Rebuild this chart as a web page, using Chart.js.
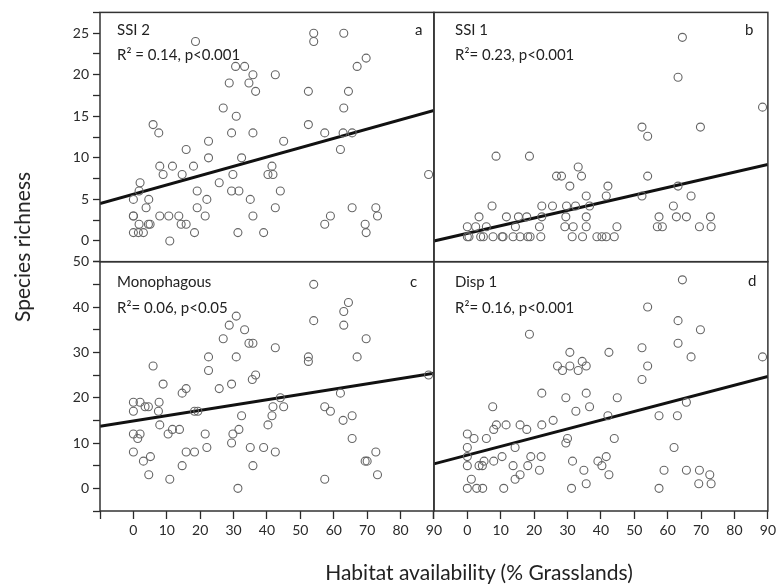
<!DOCTYPE html>
<html>
<head>
<meta charset="utf-8">
<script src="https://cdn.jsdelivr.net/npm/chart.js@4.4.1/dist/chart.umd.min.js"></script>
<style>
  html, body { margin: 0; padding: 0; background: #fff; }
  #wrap { position: relative; width: 779px; height: 587px; font-family: Lato, "Open Sans", sans-serif; color: #222; }
  canvas { position: absolute; left: 0; top: 0; }
  .t { position: absolute; white-space: nowrap; font-size: 15px; line-height: 18px; height: 18px; }
  .title { position: absolute; white-space: nowrap; font-size: 21px; line-height: 24px; }
</style>
</head>
<body>
<div id="wrap">
  <canvas id="c" width="779" height="587"></canvas>
  <div class="t" style="left:117px; top:20px;">SSI 2</div>
  <div class="t" style="left:117px; top:45px;">R² = 0.14, p&lt;0.001</div>
  <div class="t" style="left:415px; top:20px;">a</div>
  <div class="t" style="left:455px; top:20px;">SSI 1</div>
  <div class="t" style="left:455px; top:45px;">R²= 0.23, p&lt;0.001</div>
  <div class="t" style="left:745px; top:20px;">b</div>
  <div class="t" style="left:117px; top:272px;">Monophagous</div>
  <div class="t" style="left:117px; top:298px;">R²= 0.06, p&lt;0.05</div>
  <div class="t" style="left:410px; top:272px;">c</div>
  <div class="t" style="left:455px; top:272px;">Disp 1</div>
  <div class="t" style="left:455px; top:298px;">R²= 0.16, p&lt;0.001</div>
  <div class="t" style="left:748px; top:271px;">d</div>
  <div class="title" style="left:479px; top:560px; transform:translateX(-50%);">Habitat availability (% Grasslands)</div>
  <div class="title" style="left:22px; top:247px; transform:translate(-50%,-50%) rotate(-90deg);">Species richness</div>
</div>
<script>
// ---- tick labels ----
const xTickLabels = [0, 10, 20, 30, 40, 50, 60, 70, 80, 90];
const yTopTickLabels = [0, 5, 10, 15, 20, 25];
const yBottomTickLabels = [0, 10, 20, 30, 40, 50];

// ---- Panel a: SSI 2 ----
const aX = [0,0,0,0,1.5,3,2,1.7,1.7,3.8,4.6,4.5,5,5.9,7.6,7.9,8.9,7.9,10.6,10.9,11.7,14.6,13.6,14.3,15.8,15.8,18,18.3,18.6,19.1,19.1,21.5,22,22.5,22.5,25.7,26.9,28.7,29.4,29.4,29.8,30.6,30.8,31.3,31.6,32.4,33.3,34.6,35.8,36.6,35,35.8,35.8,39,40.3,41.8,41.5,42.5,42.5,44,45,52.4,52.4,54,54,57.3,57.3,59,62,63,63,62.8,64.4,65.5,65.5,67,69.7,69.4,69.7,72.6,73.1,88.4];
const aY = [5,3,3,1,1,1,7,6,2,4,5,2,2,14,13,9,8,3,3,0,9,8,3,2,2,11,9,1,24,6,4,3,5,10,12,7,16,19,13,6,8,21,15,1,6,10,21,19,20,18,5,13,3,1,8,8,9,20,4,6,12,18,14,25,24,13,2,3,11,25,16,13,18,13,4,21,22,2,1,4,3,8];

// ---- Panel b: SSI 1 (read on the shared top axis) ----
const bX = [0,0.5,4,4.8,7.7,10.4,10.7,13.7,15.8,18.1,18.8,22,31.4,34.5,38.8,40.3,41.6,44,
            0,2.5,5.7,14.4,21.6,29.2,31.7,35.6,44.8,56.9,58.4,69.5,73,
            3.5,11.7,15.3,17.8,22.3,29.5,35.6,57.4,62.6,65.6,72.8,
            7.4,22.3,25.5,29.7,32.4,36.6,61.7,
            35.6,41.6,52.3,67,
            30.7,42.1,63.1,
            26.7,28.2,34.2,54,
            33.2,
            8.6,18.6,
            54,
            52.3,69.8,
            88.4,
            63.1,
            64.4];
const bY = [0.5,0.5,0.5,0.5,0.5,0.5,0.5,0.5,0.5,0.5,0.5,0.5,0.5,0.5,0.5,0.5,0.5,0.5,
            1.7,1.7,1.7,1.7,1.7,1.7,1.7,1.7,1.7,1.7,1.7,1.7,1.7,
            2.9,2.9,2.9,2.9,2.9,2.9,2.9,2.9,2.9,2.9,2.9,
            4.2,4.2,4.2,4.2,4.2,4.2,4.2,
            5.4,5.4,5.4,5.4,
            6.6,6.6,6.6,
            7.8,7.8,7.8,7.8,
            8.9,
            10.2,10.2,
            12.6,
            13.7,13.7,
            16.1,
            19.7,
            24.5];

// ---- Panel c: Monophagous ----
const cX = [0,0,0,0,2,2,1.3,3.5,4.5,3,5.1,4.6,5.9,7.7,7.5,7.9,8.9,10.4,11.7,10.9,13.8,14.6,15.8,14.6,15.8,18.3,18.3,19.3,21.5,22,22.5,22.5,25.7,26.9,28.7,29.4,29.4,29.8,30.8,30.8,31.6,31.3,32.4,33.3,34.6,35.8,35.6,36.6,35,35.8,39,40.3,41.5,41.8,42.5,42.5,44,45,52.4,52.4,54,54,57.3,59,57.3,62,62.8,63,63,64.4,65.5,65.5,67,69.7,69.4,70,72.6,73.1,88.4];
const cY = [19,17,12,8,19,12,11,18,18,6,7,3,27,19,17,14,23,12,13,2,13,21,22,5,8,8,17,17,12,9,26,29,22,33,36,23,10,12,29,38,13,0,16,35,32,32,24,25,9,5,9,14,16,18,31,8,20,18,29,28,45,37,18,17,2,21,15,36,39,41,16,11,29,33,6,6,8,3,25];

// ---- Panel d: Disp 1 ----
const dX = [0,2,0,5.7,0,0,1.2,0,2.8,4.6,3.5,4.5,5,7.6,7.9,8.7,7.9,10.4,10.9,11.6,13.7,14.3,14.3,15.8,15.8,17.8,18.1,19,18.6,21.6,22.1,22.3,22.3,25.7,27,28.5,29.5,29.5,30,30.7,30.7,31.5,31.2,32.5,33.2,34.4,35.6,35.6,36.6,34.9,35.6,39.1,40.3,41.6,42.1,42.4,42.4,44,44.9,52.3,52.3,54,54,57.4,57.4,58.9,61.9,62.9,63.1,63.1,65.6,65.6,64.4,67,69.8,69.5,69.3,72.6,73,88.4];
const dY = [12,11,9,11,7,5,2,0,0,0,5,5,6,18,13,14,6,7,0,14,5,9,2,14,3,13,5,7,34,4,7,14,21,15,27,26,20,10,11,30,27,6,0,17,26,28,27,21,18,4,1,6,5,7,16,3,30,11,20,24,31,27,40,16,0,4,9,16,32,37,19,4,46,29,35,4,1,3,1,29];

// ---- Fitted lines (read at the panel edges) ----
const fitX = [-10, 90];
const fitA = [4.5, 15.7];
const fitB = [0.0, 9.2];
const fitC = [13.7, 25.4];
const fitD = [5.4, 24.7];

const toPts = (xs, ys) => xs.map((x, i) => ({x: x, y: ys[i]}));

const pointStyle = {
  type: 'scatter', pointStyle: 'circle', pointRadius: 4, pointHoverRadius: 4,
  borderColor: '#666', backgroundColor: 'rgba(0,0,0,0)', pointBorderWidth: 1.1, borderWidth: 1.1
};
const lineStyle = {
  type: 'line', borderColor: '#111', borderWidth: 3, pointRadius: 0, fill: false, tension: 0
};

const datasets = [
  Object.assign({label: 'a', data: toPts(aX, aY), xAxisID: 'xL', yAxisID: 'yT'}, pointStyle),
  Object.assign({label: 'b', data: toPts(bX, bY), xAxisID: 'xR', yAxisID: 'yT'}, pointStyle),
  Object.assign({label: 'c', data: toPts(cX, cY), xAxisID: 'xL', yAxisID: 'yB'}, pointStyle),
  Object.assign({label: 'd', data: toPts(dX, dY), xAxisID: 'xR', yAxisID: 'yB'}, pointStyle),
  Object.assign({label: 'fa', data: toPts(fitX, fitA), xAxisID: 'xL', yAxisID: 'yT'}, lineStyle),
  Object.assign({label: 'fb', data: toPts(fitX, fitB), xAxisID: 'xR', yAxisID: 'yT'}, lineStyle),
  Object.assign({label: 'fc', data: toPts(fitX, fitC), xAxisID: 'xL', yAxisID: 'yB'}, lineStyle),
  Object.assign({label: 'fd', data: toPts(fitX, fitD), xAxisID: 'xR', yAxisID: 'yB'}, lineStyle)
];

const tickFont = {family: 'Lato, "Open Sans", sans-serif', size: 14};
const axisColor = '#2a2a2a';

function xAxis() {
  return {
    type: 'linear', position: 'bottom', stack: 'xs', stackWeight: 1,
    min: -10, max: 90,
    border: {display: false},
    grid: {display: true, drawOnChartArea: false, drawTicks: true, tickLength: 8, tickColor: axisColor, tickWidth: 1.3},
    ticks: {stepSize: 10, autoSkip: false, maxRotation: 0, padding: 3, color: axisColor, font: tickFont,
      callback: (v) => xTickLabels.includes(v) ? String(v) : ''},
    afterFit: (s) => { s.height = 76; }
  };
}

const framePlugin = {
  id: 'frames',
  afterDatasetsDraw(chart) {
    const ctx = chart.ctx;
    const pairs = [['xL','yT'],['xR','yT'],['xL','yB'],['xR','yB']];
    ctx.save();
    ctx.strokeStyle = '#333';
    ctx.lineWidth = 1.5;
    pairs.forEach(([xi, yi]) => {
      const xs = chart.scales[xi], ys = chart.scales[yi];
      ctx.strokeRect(xs.left, ys.top, xs.right - xs.left, ys.bottom - ys.top);
    });
    ctx.restore();
  }
};

new Chart(document.getElementById('c'), {
  data: {datasets: datasets},
  plugins: [framePlugin],
  options: {
    responsive: false,
    animation: false,
    events: [],
    layout: {padding: {left: 0, right: 7, top: 7, bottom: 0}},
    plugins: {legend: {display: false}, tooltip: {enabled: false}, title: {display: false}},
    scales: {
      xL: xAxis(),
      xR: xAxis(),
      yB: {
        type: 'linear', position: 'left', stack: 'ys', stackWeight: 1,
        min: -5, max: 50,
        border: {display: false},
        grid: {display: true, drawOnChartArea: false, drawTicks: true, tickLength: 7, tickColor: axisColor, tickWidth: 1.3},
        ticks: {stepSize: 5, autoSkip: false, padding: 4, color: axisColor, font: tickFont,
          callback: (v) => yBottomTickLabels.includes(v) ? String(v) : ''},
        afterFit: (s) => { s.width = 100; }
      },
      yT: {
        type: 'linear', position: 'left', stack: 'ys', stackWeight: 1,
        min: -2.5, max: 27.5,
        border: {display: false},
        grid: {display: true, drawOnChartArea: false, drawTicks: true, tickLength: 7, tickColor: axisColor, tickWidth: 1.3},
        ticks: {stepSize: 2.5, autoSkip: false, padding: 4, color: axisColor, font: tickFont,
          callback: (v) => yTopTickLabels.includes(v) ? String(v) : ''},
        afterFit: (s) => { s.width = 100; }
      }
    }
  }
});
</script>
</body>
</html>
